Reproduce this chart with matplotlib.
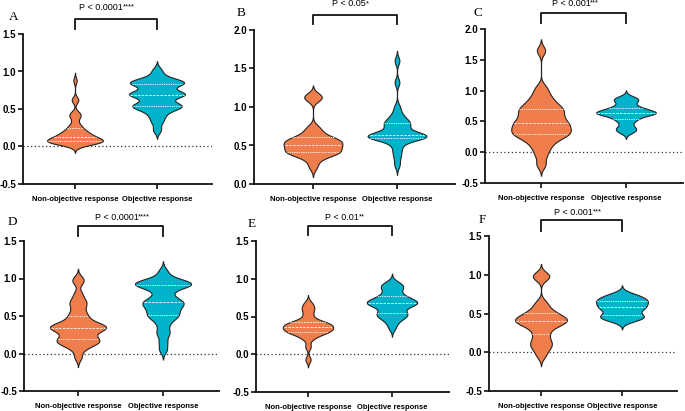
import numpy as np
import matplotlib
matplotlib.use("Agg")
import matplotlib.pyplot as plt
from matplotlib import mlab
from matplotlib.transforms import blended_transform_factory

plt.rcParams['font.family'] = ['Liberation Sans', 'DejaVu Sans']

categories = ["Non-objective response", "Objective response"]
panel_letters = ["A", "B", "C", "D", "E", "F"]
p_texts = ["P < 0.0001", "P < 0.05", "P < 0.001", "P < 0.0001", "P < 0.01", "P < 0.001"]
p_stars = ["****", "*", "***", "****", "**", "***"]
y_limits = [(-0.5, 1.5), (0.0, 2.0), (-0.5, 2.0), (-0.5, 1.5), (-0.5, 1.5), (-0.5, 1.5)]

# estimated sample values (non-objective, objective) per panel
A_non = [0.02, 0.03, 0.04, 0.05, 0.05, 0.06, 0.06, 0.06, 0.07, 0.07,
         0.07, 0.08, 0.08, 0.09, 0.09, 0.10, 0.11, 0.12, 0.12, 0.13,
         0.14, 0.15, 0.16, 0.17, 0.18, 0.19, 0.20, 0.22, 0.24, 0.26,
         0.28, 0.32, 0.38, 0.41, 0.43, 0.45, 0.61, 0.63, 0.88]
A_obj = [0.22, 0.32, 0.38, 0.43, 0.47, 0.50, 0.52, 0.53,
         0.54, 0.55, 0.56, 0.58, 0.62, 0.66, 0.68, 0.69,
         0.69, 0.70, 0.71, 0.72, 0.74, 0.78, 0.82, 0.83,
         0.84, 0.85, 0.86, 0.87, 0.88, 0.90, 0.95, 1.02]
B_non = [0.22, 0.30, 0.35, 0.38, 0.40, 0.40, 0.41,
         0.42, 0.43, 0.45, 0.47, 0.49, 0.50, 0.50,
         0.52, 0.54, 0.55, 0.56, 0.57, 0.58, 0.60,
         0.62, 0.65, 0.70, 0.74, 1.10, 1.13, 1.15]
B_obj = [0.25, 0.35, 0.42, 0.48, 0.54, 0.58, 0.59, 0.60,
         0.60, 0.61, 0.62, 0.62, 0.63, 0.63, 0.64, 0.64,
         0.65, 0.66, 0.70, 0.74, 0.76, 0.78, 0.79, 0.81,
         0.84, 0.87, 0.92, 1.00, 1.32, 1.60]
C_non = [-0.20, -0.05, 0.05, 0.12, 0.18, 0.22, 0.26, 0.28,
         0.30, 0.32, 0.34, 0.37, 0.40, 0.42, 0.44, 0.47,
         0.49, 0.52, 0.55, 0.58, 0.62, 0.65, 0.68, 0.71,
         0.73, 0.78, 0.82, 0.88, 0.95, 1.05, 1.65]
C_obj = [0.32, 0.35, 0.38, 0.40, 0.45, 0.50, 0.53,
         0.55, 0.58, 0.60, 0.61, 0.62, 0.63, 0.64,
         0.64, 0.65, 0.66, 0.67, 0.68, 0.70, 0.72,
         0.73, 0.76, 0.80, 0.84, 0.85, 0.87, 0.90]
D_non = [-0.05, 0.05, 0.10, 0.12, 0.14, 0.16, 0.17, 0.18,
         0.20, 0.22, 0.25, 0.28, 0.30, 0.32, 0.33, 0.34,
         0.35, 0.36, 0.37, 0.38, 0.40, 0.42, 0.45, 0.50,
         0.52, 0.58, 0.64, 0.68, 0.72, 0.80, 0.95, 1.00]
D_obj = [0.05, 0.15, 0.25, 0.30, 0.38, 0.44, 0.48, 0.50,
         0.52, 0.55, 0.58, 0.60, 0.63, 0.65, 0.67, 0.68,
         0.70, 0.72, 0.75, 0.80, 0.85, 0.88, 0.90, 0.91,
         0.92, 0.93, 0.94, 0.95, 0.96, 0.98, 1.02, 1.10]
E_non = [-0.07, 0.10, 0.20, 0.24, 0.26, 0.28,
         0.29, 0.30, 0.31, 0.32, 0.33, 0.34, 0.35,
         0.36, 0.37, 0.38, 0.39, 0.40, 0.41, 0.42,
         0.43, 0.45, 0.50, 0.55, 0.60, 0.63, 0.68]
E_obj = [0.35, 0.42, 0.46, 0.49, 0.51, 0.52, 0.54,
         0.55, 0.58, 0.62, 0.64, 0.65, 0.66, 0.67,
         0.68, 0.69, 0.70, 0.71, 0.72, 0.73, 0.76,
         0.78, 0.80, 0.85, 0.88, 0.90, 0.92, 0.95]
F_non = [-0.05, 0.02, 0.06, 0.10, 0.12, 0.16, 0.21,
         0.25, 0.30, 0.33, 0.35, 0.37, 0.38, 0.40,
         0.41, 0.42, 0.43, 0.44, 0.46, 0.48, 0.50,
         0.52, 0.55, 0.60, 0.65, 0.95, 0.98, 1.01]
F_obj = [0.40, 0.42, 0.44, 0.45, 0.46, 0.47,
         0.49, 0.51, 0.54, 0.56, 0.57, 0.58,
         0.59, 0.61, 0.63, 0.64, 0.65, 0.66,
         0.68, 0.69, 0.70, 0.72, 0.74, 0.76]

panel_data = [(A_non, A_obj), (B_non, B_obj), (C_non, C_obj),
              (D_non, D_obj), (E_non, E_obj), (F_non, F_obj)]
bandwidths = [(0.04, 0.045), (0.05, 0.05), (0.07, 0.04),
              (0.05, 0.05), (0.04, 0.045), (0.05, 0.04)]

# ---------------- layout / style ----------------
W, H = 685, 411
COL_NON = "#EF7E4C"
COL_OBJ = "#00B2CA"
# left, right, top, bottom, cat0 px, cat1 px
boxes = [(23, 212, 34, 184, 75, 157),
         (254, 455, 30, 184, 313, 397),
         (485, 683, 29, 183, 541, 626),
         (24, 219, 241, 391, 78, 163),
         (256, 449, 241, 392, 308, 392),
         (489, 677, 236, 391, 541, 622)]
bracket_px = [(19, 29), (15, 24), (13, 23), (226, 236), (226, 235), (220, 231)]
ptext_px = [7, 4, 3, 217, 217, 212]
ptext_end = [0.585, 0.63, 0.58, 0.71, 0.60, 0.64]
letter_px = [(14, 17), (241, 13), (478, 13), (12, 222), (252, 224), (482, 220)]
vwidths = [0.68, 0.70, 0.70, 0.66, 0.60, 0.64]

fig = plt.figure(figsize=(W / 100, H / 100), dpi=100)


def make_stats(d, bw):
    d = np.asarray(d, float)
    kde = mlab.GaussianKDE(d, bw_method=bw / np.std(d, ddof=1))
    coords = np.linspace(d.min() - 2.6 * bw, d.max() + 2.6 * bw, 400)
    vals = kde.evaluate(coords)
    st = dict(coords=coords, vals=vals, mean=d.mean(), median=np.median(d),
              min=d.min(), max=d.max(), quantiles=[])
    return st, kde


for i in range(6):
    l, r, t, b, c0, c1 = boxes[i]
    ax = fig.add_axes([l / W, 1 - b / H, (r - l) / W, (b - t) / H])
    span = c1 - c0
    ax.set_xlim((l - c0) / span, (r - c0) / span)
    ax.set_ylim(*y_limits[i])
    ax.patch.set_alpha(0)

    stats, kdes = [], []
    for d, bw in zip(panel_data[i], bandwidths[i]):
        s, k = make_stats(d, bw)
        stats.append(s)
        kdes.append(k)
    parts = ax.violin(stats, positions=[0, 1], widths=vwidths[i],
                      showmeans=False, showextrema=False, showmedians=False)
    for body, col in zip(parts['bodies'], [COL_NON, COL_OBJ]):
        body.set_facecolor(col)
        body.set_edgecolor("#222222")
        body.set_linewidth(0.8)
        body.set_alpha(1)
        body.set_zorder(3)

    # quartile lines
    for pos, d, s, k in zip([0, 1], panel_data[i], stats, kdes):
        q1, med, q3 = np.percentile(d, [25, 50, 75])
        vmax = s['vals'].max()
        for q, ls in [(q1, (0, (1.5, 1.2))), (med, (0, (3, 1.5))), (q3, (0, (1.5, 1.2)))]:
            hw = 0.5 * vwidths[i] * k.evaluate(np.array([q]))[0] / vmax
            ax.plot([pos - hw * 0.97, pos + hw * 0.97], [q, q], color="white",
                    lw=0.6, ls=ls, zorder=4)

    # dotted zero line
    ax.axhline(0, color="#333333", lw=0.9, ls=(0, (1, 2)), zorder=2)

    # axes styling
    for sp in ['top', 'right']:
        ax.spines[sp].set_visible(False)
    for sp in ['left', 'bottom']:
        ax.spines[sp].set_linewidth(1.3)
        ax.spines[sp].set_color("#111111")
    ylo, yhi = y_limits[i]
    yt = np.arange(ylo, yhi + 0.01, 0.5)
    ax.set_yticks(yt)
    ax.set_yticklabels([f"{v:.1f}" for v in yt], fontsize=7, fontweight='bold')
    ax.set_xticks([0, 1])
    ax.set_xticklabels(categories, fontsize=5.5, fontweight='bold')
    ax.tick_params(axis='both', length=3.5, width=1.2, color="#111111", pad=1.5)
    ax.tick_params(axis='x', pad=5)

    # significance bracket
    tr = blended_transform_factory(ax.transData, fig.transFigure)
    by, bl = bracket_px[i]
    ax.plot([0, 0, 1, 1], [1 - bl / H, 1 - by / H, 1 - by / H, 1 - bl / H],
            color="#111111", lw=1.3, transform=tr, clip_on=False)
    ax.text(ptext_end[i], 1 - ptext_px[i] / H, p_texts[i], transform=tr,
            ha='right', va='center', fontsize=6.5)
    ax.text(ptext_end[i], 1 - ptext_px[i] / H, p_stars[i], transform=tr,
            ha='left', va='center', fontsize=5.5)

    lx, ly = letter_px[i]
    fig.text(lx / W, 1 - ly / H, panel_letters[i], ha='center', va='center',
             fontsize=9.5, family=['Liberation Serif', 'DejaVu Serif'])

fig.savefig("out.png", dpi=100)
